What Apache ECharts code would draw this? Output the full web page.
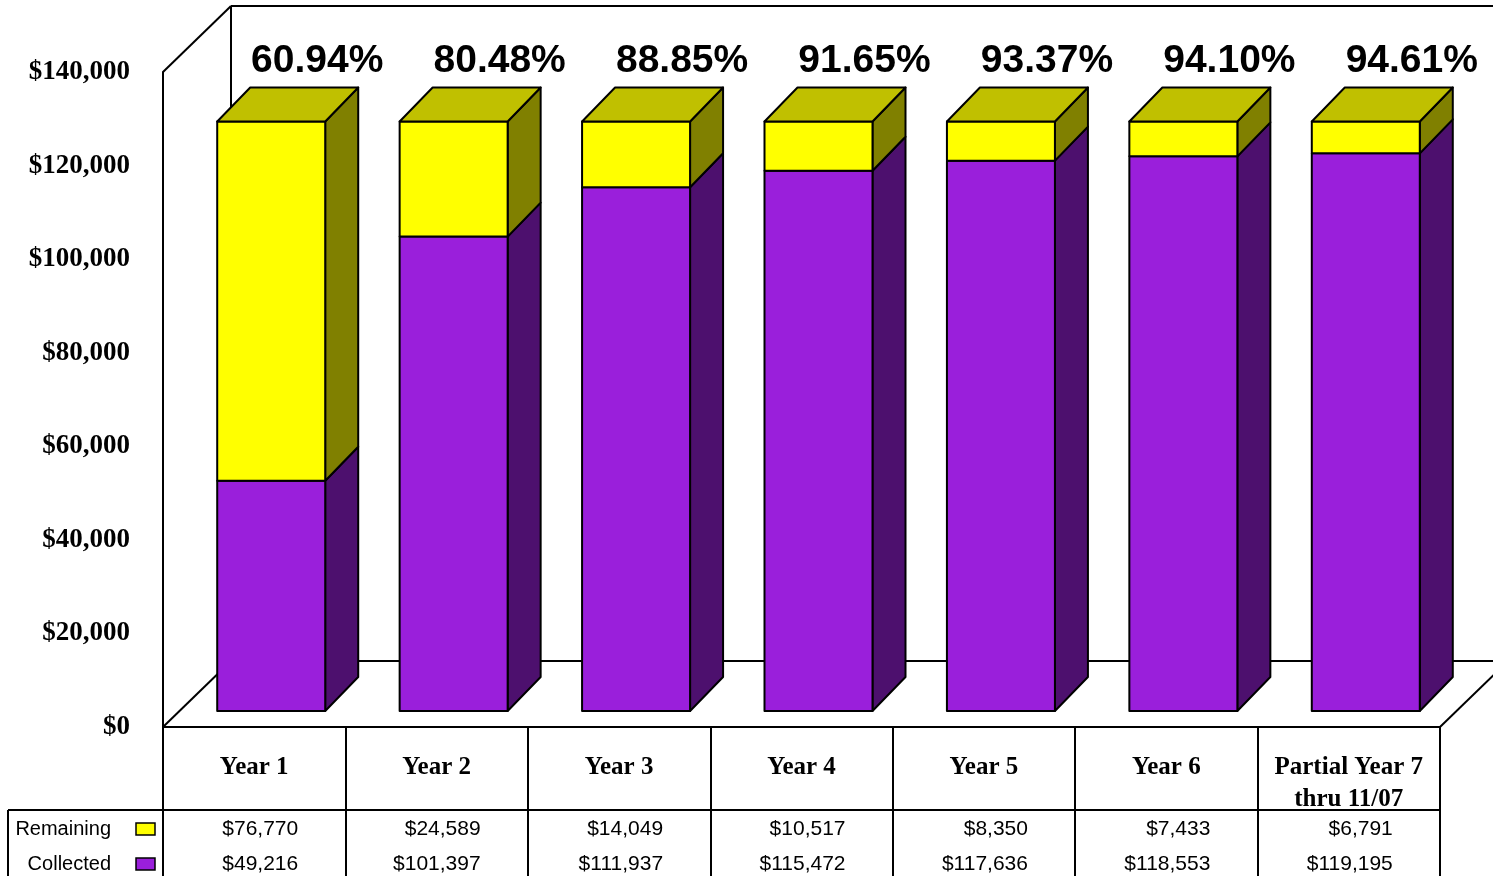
<!DOCTYPE html>
<html>
<head>
<meta charset="utf-8">
<script src="https://cdn.jsdelivr.net/npm/echarts@6/dist/echarts.min.js"></script>
<style>
  html, body { margin: 0; padding: 0; background: #fff; }
  #chart { width: 1493px; height: 876px; }
</style>
</head>
<body>
<div id="chart"></div>
<script>
const categories = ['Year 1', 'Year 2', 'Year 3', 'Year 4', 'Year 5', 'Year 6', 'Partial Year 7\nthru 11/07']
const remaining = [76770, 24589, 14049, 10517, 8350, 7433, 6791]
const collected = [49216, 101397, 111937, 115472, 117636, 118553, 119195]
const pctLabels = ['60.94%', '80.48%', '88.85%', '91.65%', '93.37%', '94.10%', '94.61%']
const seriesNames = ['Remaining', 'Collected']
const yMin = 0
const yMax = 140000
const yStep = 20000

// fake 3d look
const BAR_W = 108
const SHIFT = [17, -16]   // bar front face offset from the axis plane
const DEPTH = [33, -34]   // bar depth
const WALL = [68, -66]    // back wall offset
const LINE = '#000'

const colors = {
  Remaining: { front: '#ffff00', side: '#808000', top: '#c0c000' },
  Collected: { front: '#9a1fdb', side: '#4d106e', top: '#74179f' },
}

const money = (v) => '$' + v.toLocaleString('en-US')

const barRender = (name, isTop) => (params, api) => {
  const i = api.value(0)
  const lo = api.coord([i, api.value(1)])
  const hi = api.coord([i, api.value(2)])
  const x0 = lo[0] + SHIFT[0] - BAR_W / 2
  const x1 = x0 + BAR_W
  const yb = lo[1] + SHIFT[1]
  const yt = hi[1] + SHIFT[1]
  const c = colors[name]
  const st = { stroke: LINE, lineWidth: 2, lineJoin: 'round' }
  const children = [
    {
      type: 'polygon',
      shape: { points: [[x1, yt], [x1 + DEPTH[0], yt + DEPTH[1]], [x1 + DEPTH[0], yb + DEPTH[1]], [x1, yb]] },
      style: Object.assign({ fill: c.side }, st),
    },
    {
      type: 'rect',
      shape: { x: x0, y: yt, width: BAR_W, height: yb - yt },
      style: Object.assign({ fill: c.front }, st),
    },
  ]
  if (isTop) {
    children.push({
      type: 'polygon',
      shape: { points: [[x0, yt], [x0 + DEPTH[0], yt + DEPTH[1]], [x1 + DEPTH[0], yt + DEPTH[1]], [x1, yt]] },
      style: Object.assign({ fill: c.top }, st),
    })
    // percent label above the bar
    children.push({
      type: 'text',
      x: lo[0] + 63,
      y: yt + DEPTH[1] - 26,
      style: {
        text: pctLabels[i],
        font: 'bold 39px "Liberation Sans", Arial, sans-serif',
        fill: '#000',
        align: 'center',
        verticalAlign: 'middle',
      },
    })
  }
  return { type: 'group', children }
}

// walls, floor and table grid
const frameRender = (params, api) => {
  const cs = params.coordSys
  const L = cs.x, T = cs.y, R = cs.x + cs.width, B = cs.y + cs.height
  const st = { stroke: LINE, lineWidth: 2, fill: null }
  const line = (a, b, c, d) => ({ type: 'line', shape: { x1: a, y1: b, x2: c, y2: d }, style: st })
  const tableTop = B + 83
  const children = [
    line(L, T, L + WALL[0], T + WALL[1]),
    line(L + WALL[0], T + WALL[1], R + WALL[0] + 5, T + WALL[1]),
    line(L + WALL[0], T + WALL[1], L + WALL[0], B + WALL[1]),
    line(L + WALL[0], B + WALL[1], R + WALL[0] + 5, B + WALL[1]),
    line(L, B, L + WALL[0], B + WALL[1]),
    line(R, B, R + WALL[0], B + WALL[1]),
    line(8, tableTop, R, tableTop),
    line(8, tableTop, 8, 880),
  ]
  seriesNames.forEach((n, k) => {
    const y = tableTop + 19 + k * 35
    children.push({
      type: 'text', x: 111, y,
      style: { text: n, font: '20px "Liberation Sans", Arial, sans-serif', fill: '#000', align: 'right', verticalAlign: 'middle' },
    })
    children.push({
      type: 'rect', shape: { x: 136, y: y - 6, width: 19, height: 12 },
      style: { fill: colors[n].front, stroke: LINE, lineWidth: 1.5 },
    })
  })
  return { type: 'group', children }
}

const tableRender = (params, api) => {
  const i = api.value(0)
  const p = api.coord([i, 0])
  const rows = [remaining[i], collected[i]]
  return {
    type: 'group',
    children: rows.map((v, k) => ({
      type: 'text',
      x: p[0] + 44,
      y: p[1] + 102 + k * 35,
      style: { text: money(v), font: '21px "Liberation Sans", Arial, sans-serif', fill: '#000', align: 'right', verticalAlign: 'middle' },
    })),
  }
}

const chart = echarts.init(document.getElementById('chart'))
chart.setOption({
  animation: false,
  backgroundColor: '#fff',
  grid: { left: 163, right: 53, top: 72, bottom: 149 },
  xAxis: {
    type: 'category',
    data: categories,
    axisLine: { show: true, lineStyle: { color: LINE, width: 2 } },
    axisTick: { show: true, interval: 0, length: 160, lineStyle: { color: LINE, width: 2 } },
    axisLabel: {
      interval: 0,
      margin: 25,
      color: '#000',
      fontFamily: '"Liberation Serif", "Times New Roman", serif',
      fontWeight: 'bold',
      fontSize: 25,
      lineHeight: 32,
    },
  },
  yAxis: {
    type: 'value',
    min: yMin,
    max: yMax,
    interval: yStep,
    axisLine: { show: true, lineStyle: { color: LINE, width: 2 } },
    axisTick: { show: false },
    splitLine: { show: false },
    axisLabel: {
      margin: 33,
      color: '#000',
      fontFamily: '"Liberation Serif", "Times New Roman", serif',
      fontWeight: 'bold',
      fontSize: 27,
      padding: [10, 0, 0, 0],
      formatter: money,
    },
  },
  series: [
    { type: 'custom', name: 'frame', silent: true, z: 1, renderItem: frameRender, data: [[0, 0]] },
    { type: 'custom', name: 'table', silent: true, z: 1, renderItem: tableRender, data: categories.map((c, i) => [i, 0]) },
    {
      type: 'custom', name: 'Collected', silent: true, z: 3,
      renderItem: barRender('Collected', false),
      encode: { x: 0, y: 2 },
      data: collected.map((v, i) => [i, 0, v]),
    },
    {
      type: 'custom', name: 'Remaining', silent: true, z: 3,
      renderItem: barRender('Remaining', true),
      encode: { x: 0, y: 2 },
      data: remaining.map((v, i) => [i, collected[i], collected[i] + v]),
    },
  ],
})
</script>
</body>
</html>
